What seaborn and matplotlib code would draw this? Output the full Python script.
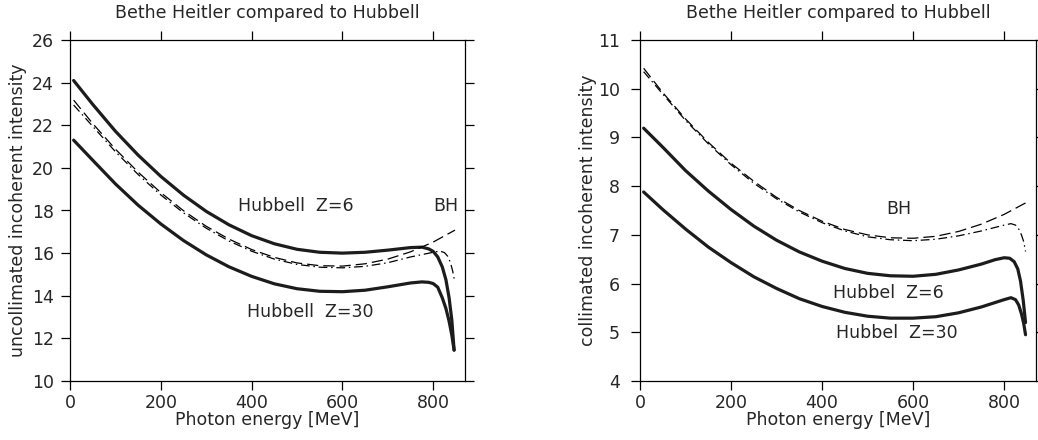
import matplotlib
matplotlib.use("Agg")
import matplotlib.pyplot as plt
import seaborn as sns

# ---------------- data ----------------
# Left panel: uncollimated incoherent intensity
x_z6_l = [8, 50, 100, 150, 200, 250, 300, 350, 400, 450, 500, 550, 600, 650,
          700, 750, 775, 790, 800, 810, 820, 828, 835, 841, 846]
z6_l = [24.10, 22.98, 21.72, 20.60, 19.60, 18.72, 17.96, 17.33, 16.82, 16.44,
        16.18, 16.04, 16.00, 16.04, 16.14, 16.26, 16.28, 16.20, 16.08, 15.82,
        15.35, 14.75, 13.90, 12.85, 11.45]
x_z30_l = [8, 50, 100, 150, 200, 250, 300, 350, 400, 450, 500, 550, 600, 650,
           700, 750, 775, 790, 800, 810, 820, 828, 835, 841, 846]
z30_l = [21.30, 20.36, 19.25, 18.25, 17.37, 16.59, 15.92, 15.36, 14.91, 14.56,
         14.33, 14.21, 14.19, 14.26, 14.42, 14.60, 14.65, 14.63, 14.57, 14.40,
         13.90, 13.40, 12.80, 12.15, 11.45]
x_bh_l = [8, 50, 100, 150, 200, 250, 300, 350, 400, 450, 500, 550, 600, 650,
          700, 750, 800, 848]
bh_l = [23.18, 22.08, 20.88, 19.80, 18.84, 17.99, 17.26, 16.66, 16.17, 15.80,
        15.54, 15.41, 15.39, 15.50, 15.72, 16.06, 16.52, 17.08]
x_bhc_l = [8, 50, 100, 150, 200, 250, 300, 350, 400, 450, 500, 550, 600, 650,
           700, 750, 800, 815, 825, 832, 838, 843, 847]
bhc_l = [22.95, 21.95, 20.76, 19.69, 18.73, 17.89, 17.17, 16.57, 16.09, 15.72,
         15.47, 15.34, 15.31, 15.38, 15.55, 15.82, 16.04, 16.10, 16.02, 15.85,
         15.55, 15.15, 14.70]

# Right panel: collimated incoherent intensity
x_z6_r = [8, 50, 100, 150, 200, 250, 300, 350, 400, 450, 500, 550, 600, 650,
          700, 750, 780, 800, 812, 822, 830, 836, 842, 847]
z6_r = [9.19, 8.80, 8.32, 7.90, 7.52, 7.18, 6.89, 6.65, 6.46, 6.31, 6.21, 6.16,
        6.15, 6.19, 6.28, 6.40, 6.49, 6.53, 6.52, 6.45, 6.30, 6.05, 5.65, 5.20]
x_z30_r = [8, 50, 100, 150, 200, 250, 300, 350, 400, 450, 500, 550, 600, 650,
           700, 750, 780, 800, 815, 825, 832, 838, 843, 847]
z30_r = [7.88, 7.52, 7.12, 6.75, 6.43, 6.14, 5.90, 5.69, 5.53, 5.41, 5.33, 5.29,
         5.29, 5.32, 5.40, 5.52, 5.61, 5.67, 5.71, 5.67, 5.56, 5.38, 5.18, 4.95]
x_bh_r = [8, 50, 100, 150, 200, 250, 300, 350, 400, 450, 500, 550, 600, 650,
          700, 750, 800, 848]
bh_r = [10.42, 9.92, 9.38, 8.90, 8.47, 8.10, 7.77, 7.50, 7.28, 7.11, 7.00, 6.94,
        6.93, 6.97, 7.07, 7.22, 7.42, 7.66]
x_bhc_r = [8, 50, 100, 150, 200, 250, 300, 350, 400, 450, 500, 550, 600, 650,
           700, 750, 800, 815, 825, 832, 838, 843, 847]
bhc_r = [10.35, 9.89, 9.35, 8.87, 8.44, 8.06, 7.74, 7.47, 7.25, 7.08, 6.96, 6.90,
         6.88, 6.91, 6.98, 7.08, 7.20, 7.23, 7.20, 7.12, 7.00, 6.86, 6.66]

title = "Bethe Heitler compared to Hubbell"
xlabel = "Photon energy [MeV]"
ylabel_l = "uncollimated incoherent intensity"
ylabel_r = "collimated incoherent intensity"
xticks = [0, 200, 400, 600, 800]
yticks_l = [10, 12, 14, 16, 18, 20, 22, 24, 26]
yticks_r = [4, 5, 6, 7, 8, 9, 10, 11]
labels_l = [("Hubbell  Z=6", 370, 18.2), ("BH", 800, 18.2), ("Hubbell  Z=30", 390, 13.23)]
labels_r = [("BH", 542, 7.53), ("Hubbel  Z=6", 423, 5.80), ("Hubbel  Z=30", 430, 4.98)]

# ---------------- style ----------------
sns.set_style("ticks")
plt.rcParams["font.family"] = ["DejaVu Sans"]
plt.rcParams["axes.edgecolor"] = "black"
plt.rcParams["axes.linewidth"] = 0.9
FS = 12.5
TXT = "#262626"

fig = plt.figure(figsize=(10.38, 4.40), dpi=100)
ax_l = fig.add_axes([70 / 1038, 1 - 381 / 440, 395 / 1038, 341 / 440])
ax_r = fig.add_axes([640 / 1038, 1 - 381 / 440, 396 / 1038, 341 / 440])

THICK = dict(color="#1c1c1c", linewidth=2.3)
THIN = dict(color="black", linewidth=0.9)


def draw(ax, series, ylim, yticks, ylabel, labels, ypad):
    for (xs, ys, kind) in series:
        if kind == "solid":
            sns.lineplot(x=xs, y=ys, ax=ax, **THICK)
        elif kind == "dash":
            sns.lineplot(x=xs, y=ys, ax=ax, **THIN)
            ax.lines[-1].set_dashes([9, 4])
        else:
            sns.lineplot(x=xs, y=ys, ax=ax, **THIN)
            ax.lines[-1].set_dashes([7, 3, 1.2, 3])
    ax.set_xlim(0, 870)
    ax.set_ylim(*ylim)
    ax.set_xticks(xticks)
    ax.set_yticks(yticks)
    ax.tick_params(axis="both", which="both", direction="out", length=6.5,
                   width=0.9, colors="black", labelsize=FS, labelcolor=TXT,
                   top=True, right=True, bottom=True, left=True,
                   labeltop=False, labelright=False)
    ax.tick_params(axis="x", pad=3)
    ax.tick_params(axis="y", pad=ypad)
    for s in ax.spines.values():
        s.set_visible(True)
        s.set_color("black")
    ax.set_title(title, fontsize=FS, pad=15.5, color=TXT)
    ax.set_xlabel(xlabel, fontsize=FS, color=TXT)
    ax.set_ylabel(ylabel, fontsize=FS, color=TXT)
    ax.yaxis.set_label_coords(-0.109, 0.5)
    ax.xaxis.set_label_coords(0.5, -0.087)
    for (t, x, y) in labels:
        ax.text(x, y, t, fontsize=FS, ha="left", va="center", color=TXT)


draw(ax_l,
     [(x_z6_l, z6_l, "solid"), (x_z30_l, z30_l, "solid"),
      (x_bh_l, bh_l, "dash"), (x_bhc_l, bhc_l, "dashdot")],
     (10, 26), yticks_l, ylabel_l, labels_l, 5)
draw(ax_r,
     [(x_z6_r, z6_r, "solid"), (x_z30_r, z30_r, "solid"),
      (x_bh_r, bh_r, "dash"), (x_bhc_r, bhc_r, "dashdot")],
     (4, 11), yticks_r, ylabel_r, labels_r, 8)

fig.savefig("out.png", dpi=100)
